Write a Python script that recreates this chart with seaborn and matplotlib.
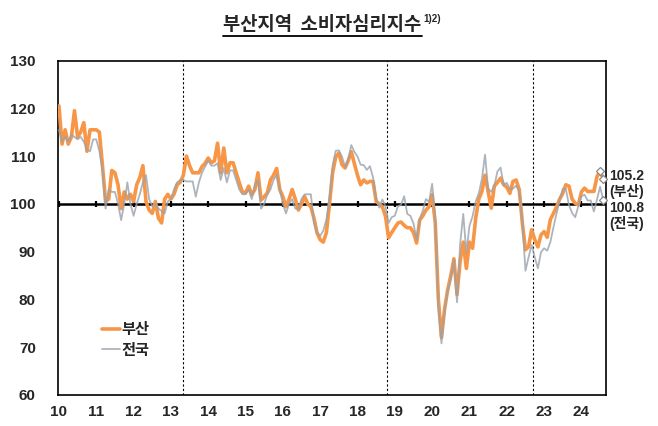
import numpy as np
import pandas as pd
import matplotlib
matplotlib.use("Agg")
import matplotlib.pyplot as plt
import seaborn as sns
from matplotlib.lines import Line2D

# Monthly CSI, Jan 2010 - Aug 2024
busan = [
    120.5, 112.5, 115.5, 112.5, 114.0, 119.5, 114.0, 115.0, 117.0, 111.0, 115.5, 115.5,  # 2010
    115.5, 115.0, 108.0, 100.5, 101.0, 107.0, 106.5, 104.0, 99.0, 102.5, 101.0, 102.0,   # 2011
    100.5, 104.0, 105.5, 108.0, 100.5, 98.7, 98.0, 100.5, 97.0, 96.0, 101.0, 102.0,      # 2012
    101.0, 102.0, 104.0, 104.5, 106.0, 110.0, 108.0, 106.5, 106.5, 106.5, 107.8, 108.5,  # 2013
    109.6, 108.6, 109.0, 112.7, 106.5, 111.7, 106.5, 108.6, 108.6, 106.5, 104.4, 102.5,  # 2014
    102.3, 103.7, 101.9, 103.0, 106.5, 100.8, 101.5, 102.3, 105.0, 106.0, 107.4, 103.0,  # 2015
    101.5, 99.4, 101.0, 103.0, 101.0, 98.7, 100.0, 101.5, 100.0, 99.4, 97.0, 93.9,       # 2016
    92.5, 92.0, 94.0, 100.0, 106.5, 109.8, 110.6, 108.2, 107.5, 109.0, 110.9, 108.4,     # 2017
    106.0, 104.0, 105.0, 104.4, 104.7, 104.7, 100.5, 100.0, 99.4, 97.4, 92.9, 94.0,      # 2018
    95.0, 96.0, 96.2, 95.5, 95.0, 95.0, 94.0, 91.8, 96.6, 97.5, 98.7, 99.4,              # 2019
    101.9, 96.0, 80.0, 72.0, 78.0, 82.0, 85.0, 88.5, 81.0, 88.0, 92.0, 86.5,             # 2020
    92.0, 90.7, 97.0, 101.0, 102.6, 106.0, 102.5, 99.1, 103.7, 104.5, 105.4, 104.0,      # 2021
    103.5, 102.2, 104.7, 105.0, 103.0, 96.0, 90.4, 91.0, 94.6, 92.5, 91.0, 93.5,         # 2022
    94.2, 93.0, 96.7, 98.0, 99.4, 101.0, 102.2, 104.0, 103.7, 101.0, 100.1, 99.8,        # 2023
    102.5, 103.3, 102.6, 102.6, 102.6, 105.7, 106.8, 105.2,                              # 2024
]
national = [
    115.5, 113.0, 114.0, 113.0, 114.5, 114.0, 113.5, 114.0, 113.0, 111.5, 111.0, 113.5,  # 2010
    113.5, 111.0, 107.0, 99.0, 103.0, 102.5, 102.5, 100.0, 96.6, 100.0, 104.5, 100.0,    # 2011
    97.5, 100.0, 102.0, 104.5, 106.0, 101.0, 99.5, 100.0, 99.0, 98.5, 98.0, 100.5,       # 2012
    101.0, 103.0, 104.5, 105.0, 105.0, 104.7, 104.7, 104.7, 101.5, 104.5, 106.5, 107.8,  # 2013
    109.0, 108.0, 108.0, 108.5, 105.0, 107.5, 104.5, 107.0, 107.0, 105.0, 103.0, 102.0,  # 2014
    102.0, 103.0, 101.0, 104.0, 105.0, 99.0, 100.0, 102.0, 103.0, 105.0, 106.0, 103.0,   # 2015
    100.0, 98.0, 100.0, 101.0, 99.0, 99.0, 101.0, 102.0, 102.0, 102.0, 96.0, 94.0,       # 2016
    93.3, 94.4, 96.7, 101.2, 108.0, 111.1, 111.2, 109.9, 107.7, 109.2, 112.3, 110.9,     # 2017
    109.9, 108.2, 108.1, 107.1, 107.9, 105.5, 101.0, 99.2, 100.9, 99.5, 96.0, 97.2,      # 2018
    97.5, 99.5, 99.8, 101.6, 97.9, 97.5, 95.9, 92.5, 96.9, 98.6, 101.0, 100.4,           # 2019
    104.2, 96.9, 78.4, 70.8, 77.6, 81.8, 84.2, 88.2, 79.4, 91.6, 97.9, 89.8,             # 2020
    95.4, 97.4, 100.5, 102.2, 105.2, 110.3, 103.2, 102.5, 103.8, 106.8, 107.6, 103.9,    # 2021
    104.4, 103.1, 103.2, 103.8, 102.6, 96.4, 86.0, 88.8, 91.4, 88.8, 86.5, 89.9,         # 2022
    90.7, 90.2, 92.0, 95.1, 98.0, 100.7, 103.2, 103.1, 99.7, 98.1, 97.2, 99.5,           # 2023
    101.6, 101.9, 100.7, 100.7, 98.4, 100.9, 103.6, 100.8,                               # 2024
]
year_labels = ["10", "11", "12", "13", "14", "15", "16", "17", "18", "19",
               "20", "21", "22", "23", "24"]
y_ticks = [60, 70, 80, 90, 100, 110, 120, 130]
divider_months = [40.0, 105.6, 152.5]
series_names = ["부산", "전국"]
last_labels = ["105.2", "(부산)", "100.8", "(전국)"]

sns.set_style("white")
plt.rcParams['font.family'] = ['Liberation Sans', 'Noto Sans CJK KR']
plt.rcParams['font.weight'] = 'bold'

n = len(busan)
months = np.arange(n)
df = pd.DataFrame({
    "month": np.concatenate([months, months]),
    "value": busan + national,
    "series": [series_names[0]] * n + [series_names[1]] * n,
})

ORANGE = "#F79646"
GRAY = "#9AA2AC"

fig = plt.figure(figsize=(6.58, 4.26), dpi=100)
ax = fig.add_axes([58 / 658, 31 / 426, 548 / 658, 334.5 / 426])

# reference line at 100 with year ticks
ax.axhline(100, color="black", lw=1.8, zorder=1)
year_pos = [12 * k for k in range(len(year_labels))]
ax.plot(year_pos, [100] * len(year_pos), linestyle="none", marker="|",
        markersize=5, mew=1.6, color="black", zorder=1)

for m in divider_months:
    ax.axvline(m, color="black", lw=0.8, linestyle=(0, (2, 2)), zorder=1)

sns.lineplot(data=df[df.series == series_names[0]], x="month", y="value",
             color=ORANGE, lw=2.6, ax=ax, label=series_names[0], zorder=3)
sns.lineplot(data=df[df.series == series_names[1]], x="month", y="value",
             color=GRAY, lw=1.3, alpha=0.8, ax=ax, label=series_names[1], zorder=4)

# end markers
ax.plot([n - 2, n - 1], busan[-2:], linestyle="none", marker="D", markersize=4.5,
        mfc="white", mec="#888888", mew=0.9, zorder=5, clip_on=False)
ax.plot([n - 1], national[-1:], linestyle="none", marker="D", markersize=4.5,
        mfc="white", mec="#888888", mew=0.9, zorder=5, clip_on=False)

ax.set_xlim(-0.3, 175.9)
ax.set_ylim(60, 130)
ax.set_yticks(y_ticks)
ax.set_yticklabels([str(v) for v in y_ticks], fontsize=11, fontweight="bold")
ax.set_xticks(year_pos)
ax.set_xticklabels(year_labels, fontsize=11, fontweight="bold")
ax.tick_params(axis="both", length=0)
ax.tick_params(axis="y", pad=16)
ax.tick_params(axis="x", pad=7)
ax.set_xlabel("")
ax.set_ylabel("")
for s in ax.spines.values():
    s.set_color("black")
    s.set_linewidth(1.2)

# right side labels
label_y = [105.8, 102.6, 99.2, 95.8]
for txt, yv in zip(last_labels, label_y):
    ax.text(177.0, yv, txt, fontsize=10, fontweight="bold", va="center", ha="left",
            clip_on=False, family=['Liberation Sans', 'Noto Sans CJK KR'])

leg = ax.legend(loc="lower left", bbox_to_anchor=(0.055, 0.07), frameon=False,
                handlelength=1.2, handletextpad=0.1, labelspacing=0.3,
                prop={"family": ["Noto Sans CJK KR"], "weight": "bold", "size": 11})

# title with underline and superscript
title = fig.text(0.49, 1 - 25 / 426, "부산지역  소비자심리지수", ha="center", va="center",
                 fontsize=13.5, fontweight="bold", family=["Noto Sans CJK KR"])
fig.canvas.draw()
bb = title.get_window_extent()
W, H = fig.bbox.width, fig.bbox.height
fig.add_artist(Line2D([bb.x0 / W, bb.x1 / W], [(bb.y0 - 1) / H, (bb.y0 - 1) / H],
                      color="black", lw=1.3, transform=fig.transFigure))
fig.text((bb.x1 + 2) / W, (bb.y1 - 4) / H, "1)2)", ha="left", va="center",
         fontsize=7, family=["Liberation Sans"])

fig.savefig("out.png", dpi=100)
